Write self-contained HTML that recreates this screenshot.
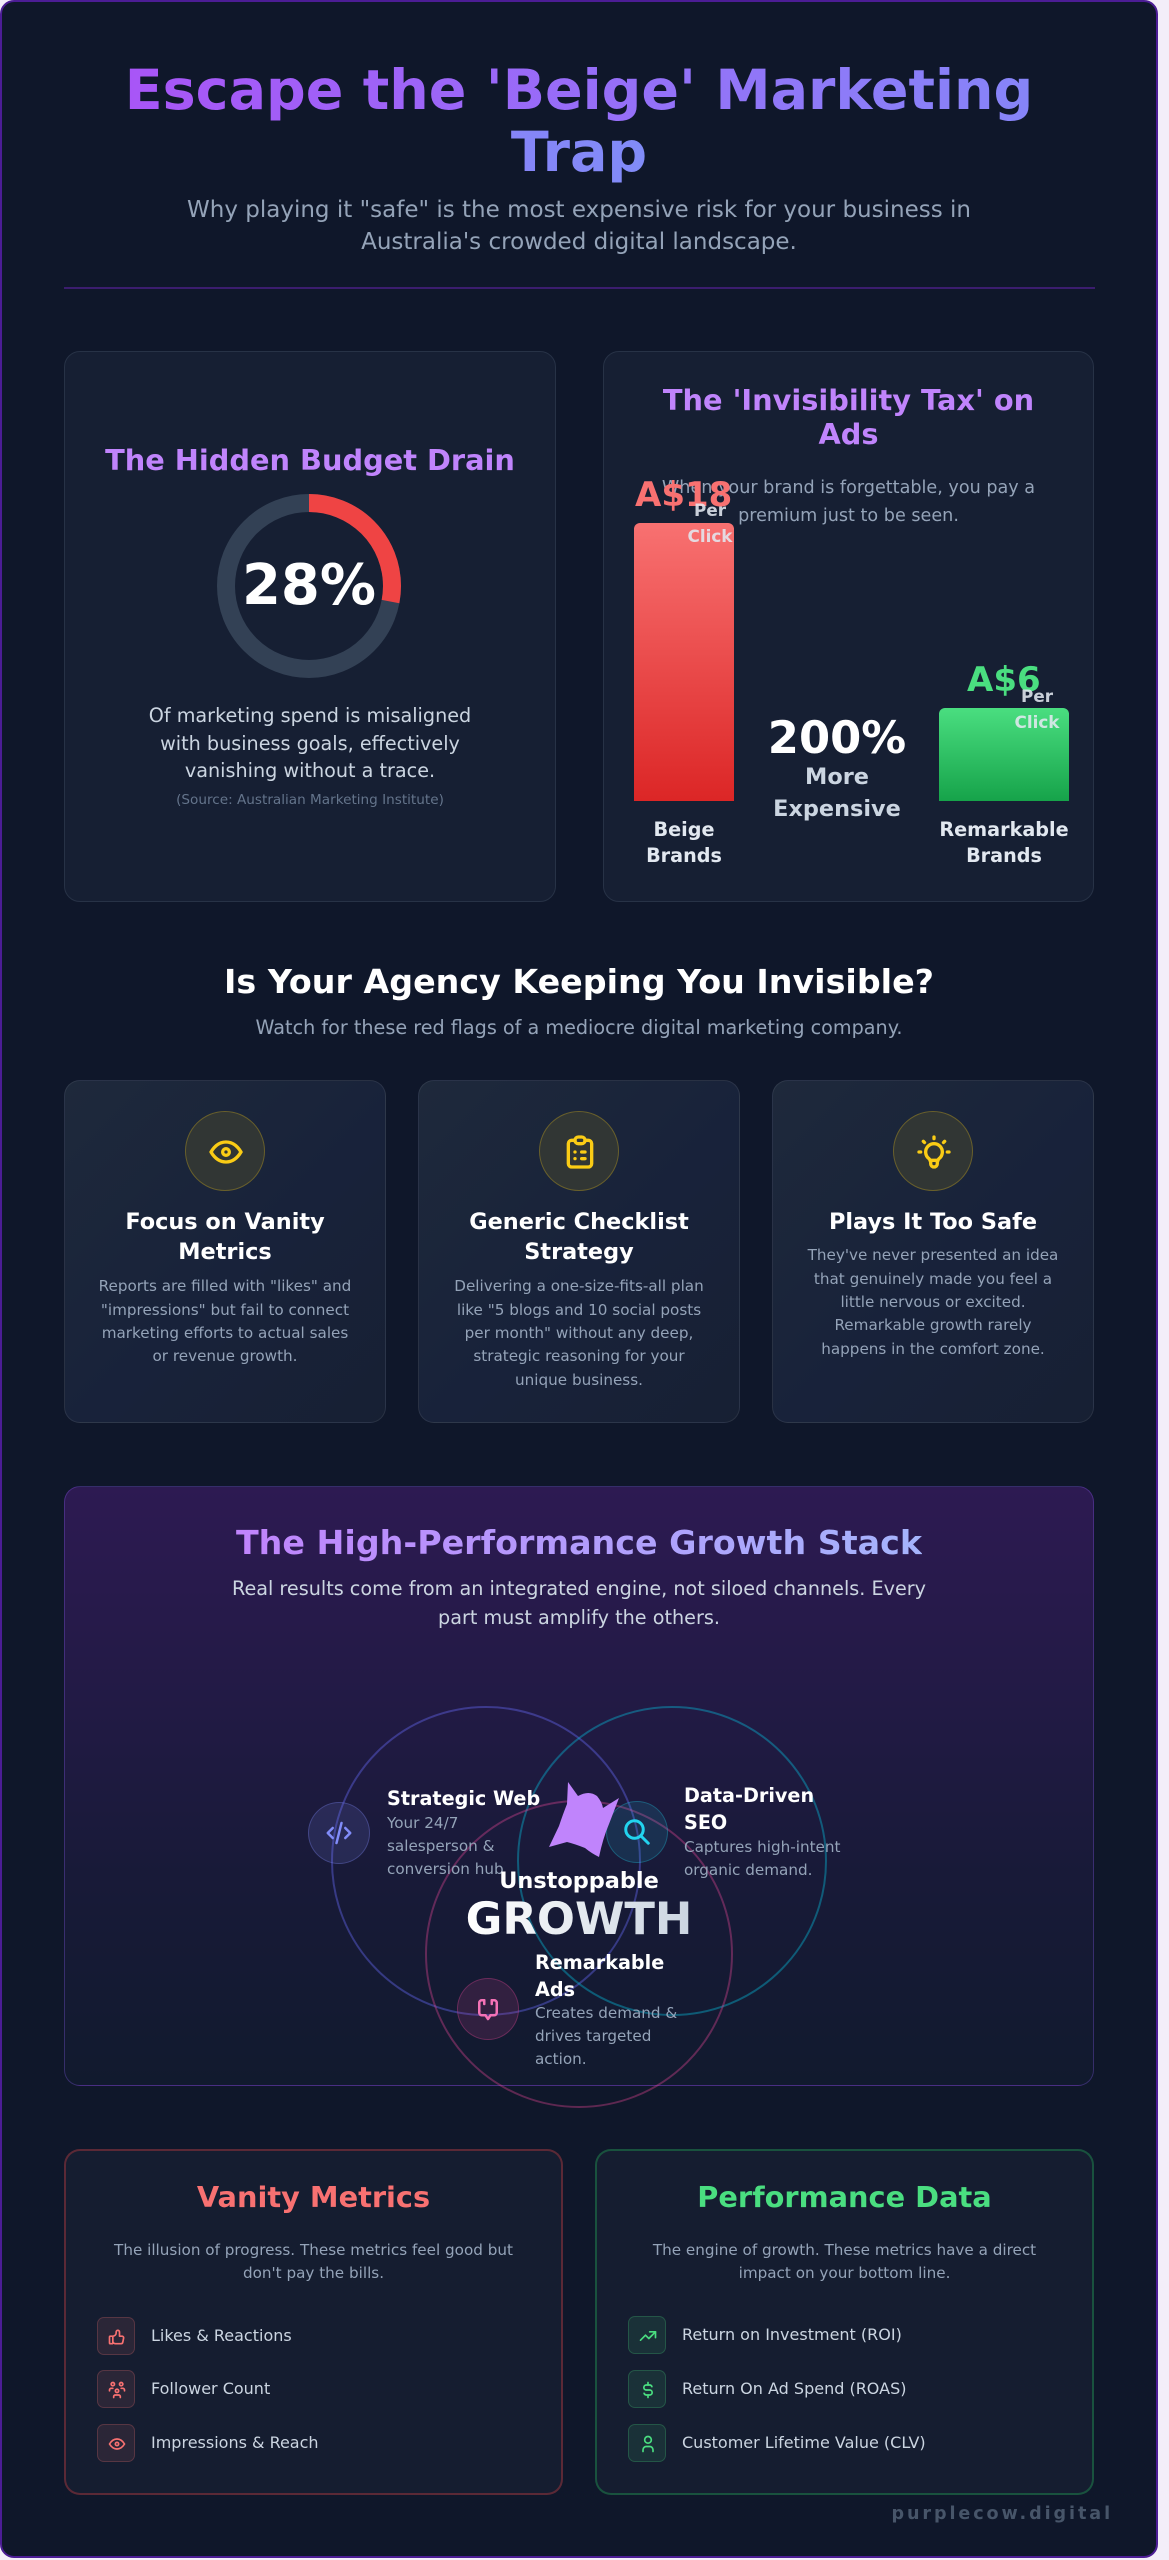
<!DOCTYPE html>
<html><head><meta charset="utf-8"><style>
*{margin:0;padding:0;box-sizing:border-box}
html,body{width:1169px;height:2560px;overflow:hidden}
body{background:#f3eef9;font-family:"DejaVu Sans","Liberation Sans",sans-serif;position:relative;color:#fff}
.a{position:absolute}
.t{position:absolute;text-align:center;white-space:nowrap}
.l{position:absolute;text-align:left;white-space:nowrap}
.b{font-weight:bold}
svg.i{fill:none;stroke-linecap:round;stroke-linejoin:round;stroke-width:2}
.card{position:absolute;background:#161f33;border:1px solid #273246;border-radius:16px}
.fcard{position:absolute;border-radius:16px;border:1px solid rgba(255,255,255,.08);background:linear-gradient(135deg,#1e293b 0%,#18223a 55%,#172033 100%)}
.ycirc{position:absolute;width:80px;height:80px;border-radius:50%;background:#313634;border:1px solid rgba(250,204,21,.28)}
.ycirc svg{position:absolute;left:20px;top:20px;width:40px;height:40px;stroke:#facc15}
.h3{font-size:22.4px;line-height:30.5px;font-weight:bold;color:#fff}
.fd{font-size:15.2px;line-height:23.3px;color:#94a3b8}
.vd{font-size:15.2px;line-height:23px;color:#94a3b8}
.vt{font-size:19.2px;line-height:27px;font-weight:bold;color:#fff}
.ib{position:absolute;width:38px;height:38px;border-radius:7px}
.ib svg{position:absolute;left:9px;top:9px;width:20px;height:20px}
.rb{background:rgba(248,113,113,.1);border:1px solid rgba(248,113,113,.22)}
.rb svg{stroke:#f87171}
.gb{background:rgba(74,222,128,.1);border:1px solid rgba(74,222,128,.22)}
.gb svg{stroke:#4ade80}
.it{position:absolute;font-size:16px;line-height:22px;color:#cbd5e1;white-space:nowrap}
</style></head><body>

<div class="a" style="left:0;top:0;width:1158px;height:2558px;background:#0f172a;border:2px solid #4c1d95;border-radius:14px"></div>

<!-- Header -->
<div class="t b" style="left:64px;top:60px;width:1030px;font-size:55.5px;line-height:61.6px"><span style="background:linear-gradient(to right,#a855f7,#818cf8);-webkit-background-clip:text;background-clip:text;color:transparent">Escape the 'Beige' Marketing<br>Trap</span></div>
<div class="t" style="left:64px;top:194px;width:1030px;font-size:23px;line-height:32px;color:#94a3b8">Why playing it "safe" is the most expensive risk for your business in<br>Australia's crowded digital landscape.</div>
<div class="a" style="left:64px;top:287px;width:1031px;height:2px;background:#3b1d6e"></div>

<!-- Left card -->
<div class="card" style="left:64px;top:351px;width:492px;height:551px"></div>
<div class="t b" style="left:64px;top:443px;width:492px;font-size:28.8px;line-height:34px;color:#c084fc">The Hidden Budget Drain</div>
<svg class="a" style="left:217px;top:494px" width="184" height="184" viewBox="0 0 184 184">
<circle cx="92" cy="92" r="83" fill="none" stroke="#334155" stroke-width="18"/>
<circle cx="92" cy="92" r="83" fill="none" stroke="#ef4444" stroke-width="18" stroke-dasharray="146 522" transform="rotate(-90 92 92)"/>
</svg>
<div class="t b" style="left:209px;top:553px;width:200px;font-size:56px;line-height:66px;color:#fff">28%</div>
<div class="t" style="left:64px;top:702.3px;width:492px;font-size:19.2px;line-height:27.4px;color:#cbd5e1">Of marketing spend is misaligned<br>with business goals, effectively<br>vanishing without a trace.</div>
<div class="t" style="left:64px;top:790px;width:492px;font-size:13.6px;line-height:20px;color:#64748b">(Source: Australian Marketing Institute)</div>

<!-- Right card -->
<div class="card" style="left:603px;top:351px;width:491px;height:551px"></div>
<div class="t b" style="left:603px;top:382.75px;width:491px;font-size:28.8px;line-height:34.5px;color:#c084fc">The 'Invisibility Tax' on<br>Ads</div>
<div class="t" style="left:603px;top:474px;width:491px;font-size:17.6px;line-height:28px;color:#94a3b8">When your brand is forgettable, you pay a<br>premium just to be seen.</div>
<div class="a" style="left:634px;top:523px;width:100px;height:278px;border-radius:6px 6px 0 0;background:linear-gradient(180deg,#f87171,#dc2626)"></div>
<div class="l b" style="left:635px;top:474.5px;font-size:34px;line-height:40px;color:#f87171">A$18</div>
<div class="t b" style="left:680px;top:497px;width:60px;font-size:16.8px;line-height:26px;color:rgba(226,232,240,.88)">Per<br>Click</div>
<div class="a" style="left:939px;top:708px;width:130px;height:93px;border-radius:6px 6px 0 0;background:linear-gradient(180deg,#4ade80,#16a34a)"></div>
<div class="l b" style="left:967px;top:660px;font-size:34px;line-height:40px;color:#4ade80">A$6</div>
<div class="t b" style="left:1007px;top:682.5px;width:60px;font-size:16.8px;line-height:26px;color:rgba(226,232,240,.88)">Per<br>Click</div>
<div class="t b" style="left:737px;top:712px;width:200px;font-size:44.8px;line-height:52px;color:#fff">200%</div>
<div class="t b" style="left:737px;top:761px;width:200px;font-size:22.4px;line-height:32px;color:#cbd5e1">More<br>Expensive</div>
<div class="t b" style="left:604px;top:817px;width:160px;font-size:19.2px;line-height:26px;color:#e2e8f0">Beige<br>Brands</div>
<div class="t b" style="left:924px;top:817px;width:160px;font-size:19.2px;line-height:26px;color:#e2e8f0">Remarkable<br>Brands</div>

<!-- Section 2 -->
<div class="t b" style="left:64px;top:962px;width:1030px;font-size:33.3px;line-height:40px;color:#fff">Is Your Agency Keeping You Invisible?</div>
<div class="t" style="left:64px;top:1014px;width:1030px;font-size:19.2px;line-height:28px;color:#94a3b8">Watch for these red flags of a mediocre digital marketing company.</div>

<div class="fcard" style="left:64px;top:1080px;width:322px;height:343px"></div>
<div class="fcard" style="left:418px;top:1080px;width:322px;height:343px"></div>
<div class="fcard" style="left:772px;top:1080px;width:322px;height:343px"></div>

<div class="ycirc" style="left:185px;top:1111px"><svg class="i" viewBox="0 0 24 24"><path d="M10 12a2 2 0 1 0 4 0a2 2 0 1 0 -4 0"/><path d="M21 12c-2.4 4 -5.4 6 -9 6c-3.6 0 -6.6 -2 -9 -6c2.4 -4 5.4 -6 9 -6c3.6 0 6.6 2 9 6"/></svg></div>
<div class="ycirc" style="left:539px;top:1111px"><svg class="i" viewBox="0 0 24 24"><path d="M9 5h-2a2 2 0 0 0 -2 2v12a2 2 0 0 0 2 2h10a2 2 0 0 0 2 -2v-12a2 2 0 0 0 -2 -2h-2"/><path d="M11 3h2a2 2 0 0 1 2 2a2 2 0 0 1 -2 2h-2a2 2 0 0 1 -2 -2a2 2 0 0 1 2 -2z"/><path d="M9 12h.01"/><path d="M13 12h2"/><path d="M9 16h.01"/><path d="M13 16h2"/></svg></div>
<div class="ycirc" style="left:893px;top:1111px"><svg class="i" viewBox="0 0 24 24"><path d="M3 12h1m8 -9v1m8 8h1m-15.4 -6.4l.7 .7m12.1 -.7l-.7 .7"/><path d="M9 16a5 5 0 1 1 6 0a3.5 3.5 0 0 0 -1 3a2 2 0 0 1 -4 0a3.5 3.5 0 0 0 -1 -3"/><path d="M9.7 17h4.6"/></svg></div>

<div class="t h3" style="left:64px;top:1206.75px;width:322px">Focus on Vanity<br>Metrics</div>
<div class="t h3" style="left:418px;top:1206.75px;width:322px">Generic Checklist<br>Strategy</div>
<div class="t h3" style="left:772px;top:1206.75px;width:322px">Plays It Too Safe</div>

<div class="t fd" style="left:64px;top:1275.35px;width:322px">Reports are filled with "likes" and<br>"impressions" but fail to connect<br>marketing efforts to actual sales<br>or revenue growth.</div>
<div class="t fd" style="left:418px;top:1275.35px;width:322px">Delivering a one-size-fits-all plan<br>like "5 blogs and 10 social posts<br>per month" without any deep,<br>strategic reasoning for your<br>unique business.</div>
<div class="t fd" style="left:772px;top:1244.35px;width:322px">They've never presented an idea<br>that genuinely made you feel a<br>little nervous or excited.<br>Remarkable growth rarely<br>happens in the comfort zone.</div>

<!-- Section 3 -->
<div class="a" style="left:64px;top:1486px;width:1030px;height:600px;border-radius:16px;border:1px solid rgba(139,92,246,.3);background:linear-gradient(180deg,#2d1a52 0%,#221a45 35%,#181a38 65%,#111a2e 100%)"></div>
<div class="t b" style="left:64px;top:1523px;width:1030px;font-size:33.3px;line-height:40px"><span style="background:linear-gradient(to right,#c084fc,#a5b4fc);-webkit-background-clip:text;background-clip:text;color:transparent">The High-Performance Growth Stack</span></div>
<div class="t" style="left:64px;top:1575px;width:1030px;font-size:19.2px;line-height:28.5px;color:#cbd5e1">Real results come from an integrated engine, not siloed channels. Every<br>part must amplify the others.</div>

<svg class="a" style="left:0;top:0;overflow:visible" width="1169" height="2560">
<circle cx="486" cy="1861" r="154" fill="none" stroke="rgba(99,102,241,.42)" stroke-width="2"/>
<circle cx="672" cy="1861" r="154" fill="none" stroke="rgba(6,182,212,.42)" stroke-width="2"/>
<circle cx="579" cy="1954" r="153" fill="none" stroke="rgba(236,72,153,.36)" stroke-width="2"/>
</svg>

<div class="a" style="left:308px;top:1802px;width:62px;height:62px;border-radius:50%;background:rgba(129,140,248,.14);border:1px solid rgba(129,140,248,.3)"><svg class="i a" style="left:15px;top:15px;stroke:#818cf8" width="30" height="30" viewBox="0 0 24 24"><path d="M7 8l-4 4l4 4"/><path d="M17 8l4 4l-4 4"/><path d="M14 4l-4 16"/></svg></div>
<div class="a" style="left:606px;top:1801px;width:62px;height:62px;border-radius:50%;background:rgba(34,211,238,.12);border:1px solid rgba(34,211,238,.28)"><svg class="i a" style="left:15px;top:15px;stroke:#22d3ee;stroke-width:2.4" width="30" height="30" viewBox="0 0 24 24"><path d="M3 10a7 7 0 1 0 14 0a7 7 0 1 0 -14 0"/><path d="M21 21l-6 -6"/></svg></div>
<div class="a" style="left:457px;top:1978px;width:62px;height:62px;border-radius:50%;background:rgba(236,72,153,.14);border:1px solid rgba(236,72,153,.3)"><svg class="i a" style="left:15px;top:15px;stroke:#f472b6" width="30" height="30" viewBox="0 0 24 24"><path d="M9 5h-2a2 2 0 0 0 -2 2v8a2 2 0 0 0 2 2h3l2 3l2 -3h3a2 2 0 0 0 2 -2v-8a2 2 0 0 0 -2 -2h-2"/><path d="M9 5v3"/><path d="M15 5v3"/></svg></div>

<svg class="a" style="left:545px;top:1778px" width="80" height="85" viewBox="0 0 80 85"><path d="M23 4L33 18Q44 12 52 18Q57 24 58 30L74 20L64 46Q58 60 54 79Q46 75 40 70Q30 66 22 64L4 69L14 48Q18 36 22 26Z" fill="#c084fc"/></svg>

<div class="l vt" style="left:387px;top:1784.5px">Strategic Web</div>
<div class="l vd" style="left:387px;top:1811.5px">Your 24/7<br>salesperson &amp;<br>conversion hub</div>
<div class="l vt" style="left:684px;top:1781.5px">Data-Driven<br>SEO</div>
<div class="l vd" style="left:684px;top:1835.5px">Captures high-intent<br>organic demand.</div>
<div class="l vt" style="left:535px;top:1948.5px">Remarkable<br>Ads</div>
<div class="l vd" style="left:535px;top:2001.5px">Creates demand &amp;<br>drives targeted<br>action.</div>

<div class="t b" style="left:429px;top:1867px;width:300px;font-size:22.4px;line-height:28px;color:#fff">Unstoppable</div>
<div class="t b" style="left:429px;top:1894px;width:300px;font-size:44.8px;line-height:50px"><span style="background:linear-gradient(to right,#ffffff,#cbd5e1);-webkit-background-clip:text;background-clip:text;color:transparent">GROWTH</span></div>

<!-- Section 4 -->
<div class="a" style="left:64px;top:2149px;width:499px;height:346px;border-radius:16px;background:#151d30;border:2px solid rgba(239,68,68,.32)"></div>
<div class="a" style="left:595px;top:2149px;width:499px;height:346px;border-radius:16px;background:#151d30;border:2px solid rgba(34,197,94,.32)"></div>

<div class="t b" style="left:64px;top:2180px;width:499px;font-size:28.8px;line-height:34px;color:#f87171">Vanity Metrics</div>
<div class="t b" style="left:595px;top:2180px;width:499px;font-size:28.8px;line-height:34px;color:#4ade80">Performance Data</div>
<div class="t" style="left:64px;top:2238.5px;width:499px;font-size:15.2px;line-height:23px;color:#94a3b8">The illusion of progress. These metrics feel good but<br>don't pay the bills.</div>
<div class="t" style="left:595px;top:2238.5px;width:499px;font-size:15.2px;line-height:23px;color:#94a3b8">The engine of growth. These metrics have a direct<br>impact on your bottom line.</div>

<div class="ib rb" style="left:97px;top:2317px"><svg class="i" viewBox="0 0 24 24"><path d="M7 11v8a1 1 0 0 1 -1 1h-2a1 1 0 0 1 -1 -1v-7a1 1 0 0 1 1 -1h3a4 4 0 0 0 4 -4v-1a2 2 0 0 1 4 0v5h3a2 2 0 0 1 2 2l-1 5a2 3 0 0 1 -2 2h-7a3 3 0 0 1 -3 -3"/></svg></div>
<div class="it" style="left:151px;top:2325px">Likes &amp; Reactions</div>
<div class="ib rb" style="left:97px;top:2370px"><svg class="i" viewBox="0 0 24 24"><path d="M10 13a2 2 0 1 0 4 0a2 2 0 0 0 -4 0"/><path d="M8 21v-1a2 2 0 0 1 2 -2h4a2 2 0 0 1 2 2v1"/><path d="M15 5a2 2 0 1 0 4 0a2 2 0 0 0 -4 0"/><path d="M17 10h2a2 2 0 0 1 2 2v1"/><path d="M5 5a2 2 0 1 0 4 0a2 2 0 0 0 -4 0"/><path d="M3 13v-1a2 2 0 0 1 2 -2h2"/></svg></div>
<div class="it" style="left:151px;top:2378px">Follower Count</div>
<div class="ib rb" style="left:97px;top:2424px"><svg class="i" viewBox="0 0 24 24"><path d="M10 12a2 2 0 1 0 4 0a2 2 0 1 0 -4 0"/><path d="M21 12c-2.4 4 -5.4 6 -9 6c-3.6 0 -6.6 -2 -9 -6c2.4 -4 5.4 -6 9 -6c3.6 0 6.6 2 9 6"/></svg></div>
<div class="it" style="left:151px;top:2432px">Impressions &amp; Reach</div>

<div class="ib gb" style="left:628px;top:2316px"><svg class="i" viewBox="0 0 24 24"><path d="M3 17l6 -6l4 4l8 -8"/><path d="M14 7h7v7"/></svg></div>
<div class="it" style="left:682px;top:2324px">Return on Investment (ROI)</div>
<div class="ib gb" style="left:628px;top:2370px"><svg class="i" viewBox="0 0 24 24"><path d="M16.7 8a3 3 0 0 0 -2.7 -2h-4a3 3 0 0 0 0 6h4a3 3 0 0 1 0 6h-4a3 3 0 0 1 -2.7 -2"/><path d="M12 3v3m0 12v3"/></svg></div>
<div class="it" style="left:682px;top:2378px">Return On Ad Spend (ROAS)</div>
<div class="ib gb" style="left:628px;top:2424px"><svg class="i" viewBox="0 0 24 24"><path d="M8 7a4 4 0 1 0 8 0a4 4 0 0 0 -8 0"/><path d="M6 21v-2a4 4 0 0 1 4 -4h4a4 4 0 0 1 4 4v2"/></svg></div>
<div class="it" style="left:682px;top:2432px">Customer Lifetime Value (CLV)</div>

<div class="a b" style="right:56px;top:2502px;font-size:17.6px;line-height:24px;letter-spacing:2.9px;color:#475569;white-space:nowrap">purplecow.digital</div>

</body></html>
